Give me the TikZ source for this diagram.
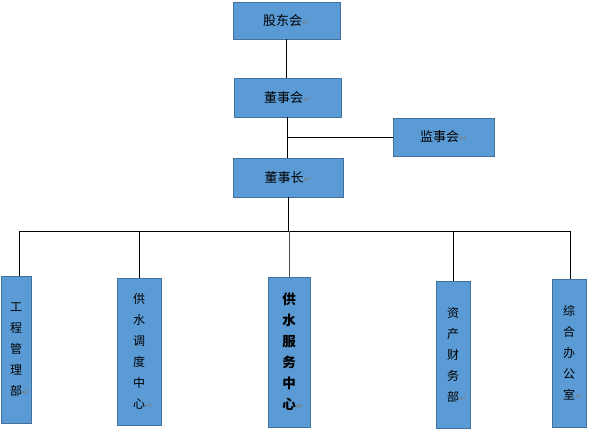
\documentclass[tikz,border=0pt]{standalone}
\usepackage{fontspec}
\newfontfamily\cjk{Noto Sans CJK SC}
\newfontfamily\symf{DejaVu Sans}
\definecolor{boxfill}{HTML}{5B9BD5}
\definecolor{boxline}{HTML}{41719C}
\definecolor{markgrey}{HTML}{7F7F7F}
\newcommand{\pmark}{{\symf\fontsize{9}{9}\selectfont\color{markgrey}↵}}
\begin{document}
\begin{tikzpicture}[x=1pt,y=-1pt,
  orgbox/.style={draw=boxline,line width=0.9pt,fill=boxfill,inner sep=0pt,
    font={\cjk\fontsize{12}{21}\selectfont},align=center},
  topbox/.style={orgbox,font={\cjk\fontsize{13}{15}\selectfont}},
  link/.style={black,line width=1pt}]
\useasboundingbox (0,0) rectangle (589,429);
% top boxes
\node[topbox,minimum width=107pt,minimum height=37pt] (gdh) at (286.5,20.5) {股东会\pmark};
\node[topbox,minimum width=107pt,minimum height=39pt] (dsh) at (287.5,97.5) {董事会\pmark};
\node[topbox,minimum width=101pt,minimum height=38pt] (jsh) at (443.5,137) {监事会\pmark};
\node[topbox,minimum width=110pt,minimum height=39pt] (dsz) at (288,177.5) {董事长\pmark};
% departments
\node[orgbox,minimum width=30pt,minimum height=147pt] (d1) at (16,349.5) {工\\程\\管\\理\\部\rlap{\pmark}};
\node[orgbox,minimum width=44pt,minimum height=147pt] (d2) at (139,351.5) {供\\水\\调\\度\\中\\心\rlap{\pmark}};
\node[orgbox,minimum width=42pt,minimum height=150pt,font={\cjk\bfseries\fontsize{13.5}{21}\selectfont}] (d3) at (289,352) {供\\水\\服\\务\\中\\心\rlap{\pmark}};
\node[orgbox,minimum width=34pt,minimum height=147pt] (d4) at (453,354.5) {资\\产\\财\\务\\部\rlap{\pmark}};
\node[orgbox,minimum width=34pt,minimum height=148pt] (d5) at (569,353) {综\\合\\办\\公\\室\rlap{\pmark}};
% connectors
\coordinate (busL) at (19,231);
\coordinate (busR) at (570,231);
\coordinate (tap) at (288,137);
\draw[link] (gdh.south) -- (gdh.south |- dsh.north);
\draw[link] (dsh.south) -- (dsh.south |- dsz.north);
\draw[link] (tap) -- (jsh.west);
\draw[link] (dsz.south) -- (dsz.south |- busL);
\draw[link] (busL) -- (busR);
\draw[link] (busL) -- (busL |- d1.north);
\draw[link] (d2.north |- busL) -- (d2.north);
\draw[link,black!70] (d3.north |- busL) -- (d3.north);
\draw[link] (d4.north |- busL) -- (d4.north);
\draw[link] (busR) -- (busR |- d5.north);
\end{tikzpicture}
\end{document}
